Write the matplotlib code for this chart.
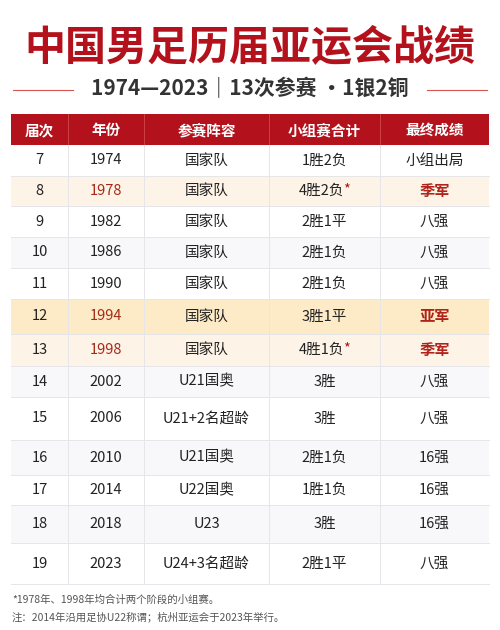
import matplotlib
matplotlib.use("Agg")
import matplotlib.pyplot as plt
from matplotlib.patches import Rectangle

plt.rcParams['font.family'] = ['Noto Sans CJK SC', 'DejaVu Sans']

headers = ["届次", "年份", "参赛阵容", "小组赛合计", "最终成绩"]
editions = ["7", "8", "9", "10", "11", "12", "13", "14", "15", "16", "17", "18", "19"]
years = ["1974", "1978", "1982", "1986", "1990", "1994", "1998", "2002", "2006", "2010", "2014", "2018", "2023"]
squads = ["国家队", "国家队", "国家队", "国家队", "国家队", "国家队", "国家队", "U21国奥", "U21+2名超龄", "U21国奥", "U22国奥", "U23", "U24+3名超龄"]
group = ["1胜2负", "4胜2负", "2胜1平", "2胜1负", "2胜1负", "3胜1平", "4胜1负", "3胜", "3胜", "2胜1负", "1胜1负", "3胜", "2胜1平"]
starred = [False, True, False, False, False, False, True, False, False, False, False, False, False]
results = ["小组出局", "季军", "八强", "八强", "八强", "亚军", "季军", "八强", "八强", "16强", "16强", "16强", "八强"]
medal = [False, True, False, False, False, True, True, False, False, False, False, False, False]

fig = plt.figure(figsize=(5, 6.3), dpi=100)
fig.patch.set_facecolor('white')
ax = fig.add_axes([0, 0, 1, 1])
ax.set_xlim(0, 500); ax.set_ylim(630, 0); ax.axis('off')

RED = '#B3121C'
ax.text(250, 48, "中国男足历届亚运会战绩", ha='center', va='center', fontsize=29.5, fontweight='black', color=RED)
ax.text(250, 89, "1974—2023｜13次参赛 ·1银2铜", ha='center', va='center', fontsize=15, fontweight='bold', color='#333333')
ax.plot([13, 73], [90, 90], color='#D9534F', lw=0.8)
ax.plot([427, 487], [90, 90], color='#D9534F', lw=0.8)

cols = [11, 68, 144, 269, 380, 489]
ax.add_patch(Rectangle((cols[0], 114), cols[-1]-cols[0], 31, color=RED, lw=0))
for i, h in enumerate(headers):
    ax.text((cols[i]+cols[i+1])/2, 130, h, ha='center', va='center', fontsize=10.5, fontweight='bold', color='white')
for c in cols[1:-1]:
    ax.plot([c, c], [114, 145], color='#D04848', lw=0.6)

rows = [145, 176, 206, 237, 268, 299, 334, 366, 397, 440, 475, 505, 543, 584]
for r in range(len(editions)):
    y0, y1 = rows[r], rows[r+1]
    if r == 5:
        bg = '#FCEBC6'
    elif medal[r]:
        bg = '#FDF3E6'
    else:
        bg = 'white' if r % 2 == 0 else '#F8F8FA'
    ax.add_patch(Rectangle((cols[0], y0), cols[-1]-cols[0], y1-y0, color=bg, lw=0))
    ax.plot([cols[0], cols[-1]], [y1, y1], color='#E6E6EA', lw=0.7)
    yc = (y0 + y1) / 2
    ax.text((cols[0]+cols[1])/2, yc, editions[r], ha='center', va='center', fontsize=10.5, color='#222222')
    ax.text((cols[1]+cols[2])/2, yc, years[r], ha='center', va='center', fontsize=10.5,
            color='#A52A1A' if medal[r] else '#222222')
    ax.text((cols[2]+cols[3])/2, yc, squads[r], ha='center', va='center', fontsize=10.5, color='#222222')
    g = group[r]
    if starred[r]:
        ax.text((cols[3]+cols[4])/2 - 3, yc, g, ha='center', va='center', fontsize=10.5, color='#222222')
        ax.text((cols[3]+cols[4])/2 + 22, yc - 2, "*", ha='center', va='center', fontsize=10.5, color='#B3121C')
    else:
        ax.text((cols[3]+cols[4])/2, yc, g, ha='center', va='center', fontsize=10.5, color='#222222')
    ax.text((cols[4]+cols[5])/2, yc, results[r], ha='center', va='center',
            fontsize=11 if medal[r] else 10.5,
            fontweight='bold' if medal[r] else ('medium' if results[r] != '小组出局' else 'normal'),
            color='#B0231A' if medal[r] else '#222222')
for c in cols[1:-1]:
    ax.plot([c, c], [145, 584], color='#E6E6EA', lw=0.7)

ax.text(12, 600, "*1978年、1998年均合计两个阶段的小组赛。", ha='left', va='center', fontsize=7.5, color='#555555')
ax.text(12, 617, "注：2014年沿用足协U22称谓；杭州亚运会于2023年举行。", ha='left', va='center', fontsize=7.5, color='#555555')

fig.savefig("out.png", dpi=100, facecolor='white')
